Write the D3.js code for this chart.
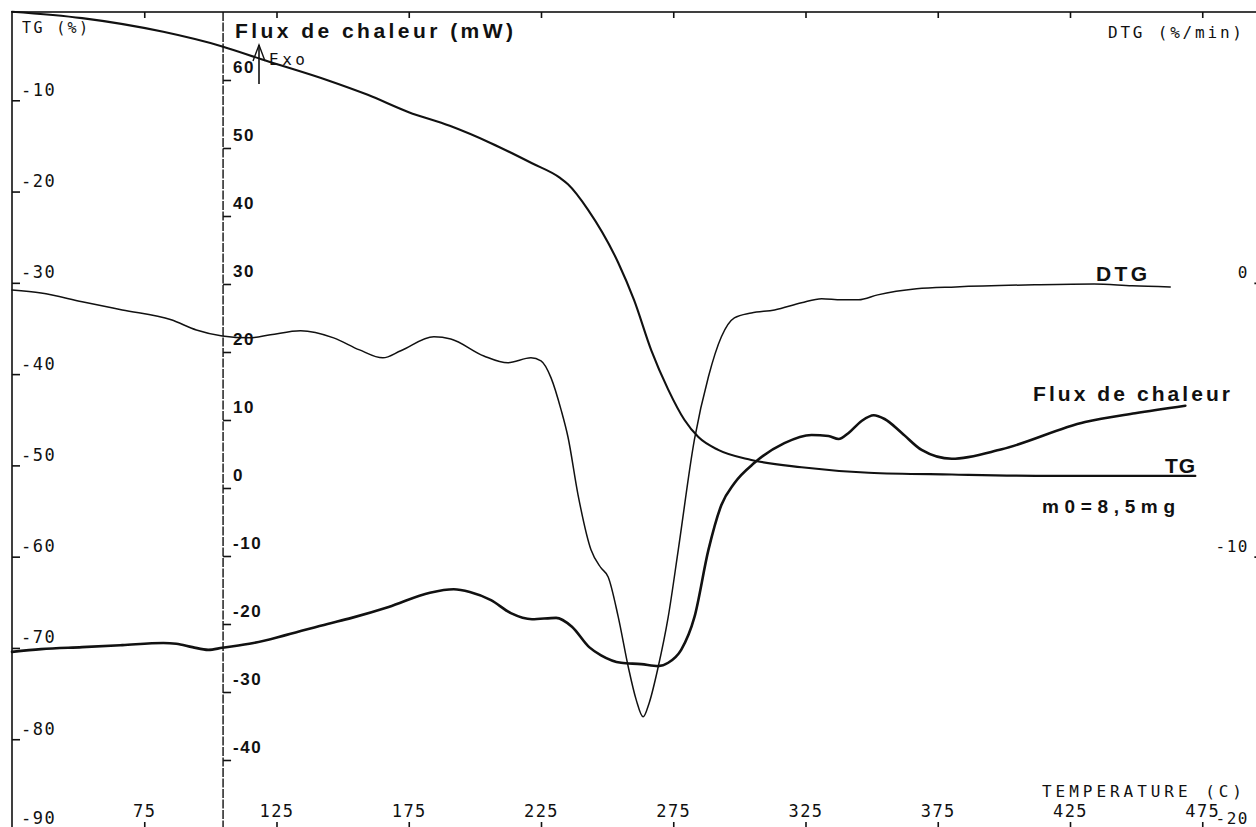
<!DOCTYPE html>
<html>
<head>
<meta charset="utf-8">
<script src="https://cdn.jsdelivr.net/npm/d3@7"></script>
<style>
  body { margin: 0; background: #fff; }
  svg { display: block; }
  .mono { font-family: "DejaVu Sans Mono", monospace; fill: #111; }
  .bold { font-family: "Liberation Sans", Arial, sans-serif; font-weight: bold; fill: #111; }
</style>
</head>
<body>
<svg id="chart" width="1256" height="827"></svg>
<script>
// Thermogravimetric run, sample mass m0 = 8,5 mg
// TG trace: mass change (%) against temperature (°C)
const tgTemps  = [25, 51.5, 82.2, 104.5, 119.3, 144.3, 159.5, 175, 190.5, 206.1, 221.6, 232.2, 235.2,
                  242.8, 254.2, 260.2, 266.7, 273.1, 279.2, 284.5, 292, 304.5, 323.5, 348.9, 380.3, 418.2, 472.4];
const tgValues = [-0.3, -1.0, -2.5, -4.1, -5.5, -7.8, -9.4, -11.3, -12.8, -14.7, -16.9, -18.5, -19.2,
                  -22.0, -27.8, -31.9, -37.4, -41.7, -45.0, -46.9, -48.3, -49.4, -50.2, -50.8, -51.0, -51.15, -51.15];

// DTG trace: rate of mass change (%/min)
const dtgTemps  = [25, 36, 51.5, 66.7, 85.2, 94.7, 104.5, 114.8, 122.7, 134.1, 146.6, 156.4, 165.2, 172,
                   184.5, 190.9, 203.4, 212.5, 221.2, 225, 228.8, 232.6, 235.2, 239, 243.9, 247.7, 250.4,
                   254.2, 258, 261, 263.6, 265.9, 269.3, 273.1, 276.9, 283, 288.3, 293.2, 298.1, 304.5,
                   313.3, 323.5, 331.1, 338.6, 345.1, 352.3, 367, 381.8, 411.7, 434.1, 448.5, 462.9];
const dtgValues = [-0.26, -0.37, -0.69, -0.99, -1.35, -1.72, -1.94, -2.01, -1.90, -1.75, -2.01, -2.45, -2.74, -2.48,
                   -1.97, -2.05, -2.67, -2.92, -2.74, -2.85, -3.47, -4.64, -5.63, -7.74, -9.75, -10.41, -10.74,
                   -12.20, -14.03, -15.23, -15.85, -15.34, -14.03, -12.20, -9.75, -5.73, -3.43, -1.97, -1.28, -1.10,
                   -0.99, -0.73, -0.58, -0.62, -0.62, -0.44, -0.22, -0.15, -0.07, -0.04, -0.11, -0.15];

// Heat flow trace (mW), exo up
const fluxTemps  = [25, 36, 51.5, 66.7, 82.2, 87.1, 93.2, 99.2, 104.5, 116.3, 128.8, 144.3, 153.4, 167.4,
                    183, 192, 198.1, 206.1, 213.6, 221.6, 230.7, 236.7, 243.2, 247.7, 255.3, 262.9, 269.3,
                    273.1, 278, 283, 288.3, 293.2, 298.1, 305.7, 317, 327.3, 333.7, 337.5, 341.3, 346.2,
                    350.8, 354.9, 361.4, 368.9, 380.3, 399.2, 430.7, 449.6, 468.6];
const fluxValues = [-24.1, -23.7, -23.4, -23.1, -22.8, -22.9, -23.4, -23.8, -23.5, -22.8, -21.6, -20.0, -19.1, -17.5,
                    -15.4, -14.9, -15.3, -16.5, -18.4, -19.3, -19.1, -20.4, -23.4, -24.6, -25.7, -25.9, -26.2,
                    -25.7, -23.8, -19.0, -9.1, -2.5, 0.7, 3.7, 6.6, 7.8, 7.65, 7.2, 8.1, 9.85,
                    10.7, 10.15, 8.1, 5.6, 4.3, 5.7, 9.7, 11.0, 12.1];

// Axis ticks
const tempTicks = [75, 125, 175, 225, 275, 325, 375, 425, 475];
const tgTicks   = [-10, -20, -30, -40, -50, -60, -70, -80, -90];
const fluxTicks = [60, 50, 40, 30, 20, 10, 0, -10, -20, -30, -40];
const dtgTicks  = [0, -10, -20];

const svg = d3.select("#chart");

// Scales
const frameLeft = 12, frameTop = 12, frameBottom = 831;
const x     = d3.scaleLinear().domain([25, 500]).range([frameLeft, frameLeft + 475 * 2.645]);
const yTG   = d3.scaleLinear().domain([0, -90]).range([9, 830.5]);
const yDTG  = d3.scaleLinear().domain([10, -20]).range([9, 830.5]);
const yFlux = d3.scaleLinear().domain([0, 60]).range([488, 80]);
const frameRight = x(500);
const fluxAxisX = x(104.8);

// Frame
svg.append("rect")
  .attr("x", frameLeft).attr("y", frameTop)
  .attr("width", frameRight - frameLeft).attr("height", frameBottom - frameTop)
  .attr("fill", "none").attr("stroke", "#111").attr("stroke-width", 1.6);

// Heat flow axis line
svg.append("line")
  .attr("x1", fluxAxisX).attr("x2", fluxAxisX)
  .attr("y1", frameTop).attr("y2", frameBottom)
  .attr("stroke", "#111").attr("stroke-width", 1.4)
  .attr("stroke-dasharray", "9,1.5");

function styleAxis(g) {
  g.select(".domain").remove();
  g.selectAll(".tick line").attr("stroke", "#111").attr("stroke-width", 1.6);
}

// TG axis (left)
const tgAxis = svg.append("g")
  .attr("transform", `translate(${frameLeft},0)`)
  .call(d3.axisRight(yTG).tickValues(tgTicks).tickSize(8).tickFormat(d => String(d)));
styleAxis(tgAxis);
tgAxis.selectAll(".tick text")
  .attr("class", "mono").attr("x", 9)
  .attr("dy", d => d === -90 ? -7 : -5)
  .attr("font-size", 17).attr("letter-spacing", 1.5)
  .attr("text-anchor", "start").attr("dominant-baseline", "auto");

// Heat flow axis
const fluxAxis = svg.append("g")
  .attr("transform", `translate(${fluxAxisX},0)`)
  .call(d3.axisRight(yFlux).tickValues(fluxTicks).tickSize(8).tickFormat(d => String(d)));
styleAxis(fluxAxis);
fluxAxis.selectAll(".tick text")
  .attr("class", "bold").attr("x", 10).attr("dy", -8)
  .attr("font-size", 17).attr("letter-spacing", 1.5)
  .attr("text-anchor", "start").attr("dominant-baseline", "auto");

// DTG axis (right)
const dtgAxis = svg.append("g")
  .attr("transform", `translate(${frameRight},0)`)
  .call(d3.axisLeft(yDTG).tickValues(dtgTicks).tickSize(14).tickFormat(d => String(d)));
styleAxis(dtgAxis);
dtgAxis.selectAll(".tick text")
  .attr("class", "mono").attr("x", -(frameRight - 1249))
  .attr("dy", d => d === -20 ? -7 : -5)
  .attr("font-size", 16).attr("letter-spacing", 1.5)
  .attr("text-anchor", "end").attr("dominant-baseline", "auto");

// Temperature axis (bottom, labels above ticks)
const tAxis = svg.append("g")
  .attr("transform", `translate(0,${frameBottom})`)
  .call(d3.axisTop(x).tickValues(tempTicks).tickSize(9).tickPadding(5).tickFormat(d => String(d)));
styleAxis(tAxis);
tAxis.selectAll(".tick text")
  .attr("class", "mono").attr("font-size", 17).attr("letter-spacing", 1.5);

// Top ticks
const topAxis = svg.append("g")
  .attr("transform", `translate(0,${frameTop})`)
  .call(d3.axisBottom(x).tickValues(tempTicks).tickSize(6).tickFormat(""));
styleAxis(topAxis);

// Traces
const curve = d3.curveMonotoneX;
function trace(temps, values, yScale, width) {
  const pts = temps.map((t, i) => [t, values[i]]);
  svg.append("path")
    .datum(pts)
    .attr("fill", "none").attr("stroke", "#111")
    .attr("stroke-width", width).attr("stroke-linejoin", "round").attr("stroke-linecap", "round")
    .attr("d", d3.line().curve(curve).x(d => x(d[0])).y(d => yScale(d[1])));
}
trace(tgTemps, tgValues, yTG, 2.1);
trace(dtgTemps, dtgValues, yDTG, 1.5);
trace(fluxTemps, fluxValues, yFlux, 2.6);

// Axis titles
svg.append("text").attr("class", "mono").attr("x", 22).attr("y", 33)
  .attr("font-size", 15).attr("textLength", 66).attr("lengthAdjust", "spacing").text("TG  (%)");
svg.append("text").attr("class", "bold").attr("x", 235).attr("y", 38)
  .attr("font-size", 21).attr("textLength", 278).attr("lengthAdjust", "spacing").text("Flux de chaleur (mW)");
svg.append("text").attr("class", "mono").attr("x", 1108).attr("y", 38)
  .attr("font-size", 16).attr("textLength", 134).attr("lengthAdjust", "spacing").text("DTG  (%/min)");
svg.append("text").attr("class", "mono").attr("x", 1042).attr("y", 797)
  .attr("font-size", 16).attr("textLength", 200).attr("lengthAdjust", "spacing").text("TEMPERATURE  (C)");

// Exo arrow
const ax = 259;
svg.append("line").attr("x1", ax).attr("x2", ax).attr("y1", 45).attr("y2", 84)
  .attr("stroke", "#111").attr("stroke-width", 1.6);
svg.append("path").attr("d", `M${ax - 6},61 L${ax},45 L${ax + 6},61`)
  .attr("fill", "none").attr("stroke", "#111").attr("stroke-width", 1.4);
svg.append("text").attr("class", "mono").attr("x", 269).attr("y", 65)
  .attr("font-size", 16).attr("textLength", 36).attr("lengthAdjust", "spacing").text("Exo");

// Trace labels
svg.append("text").attr("class", "bold").attr("x", 1096).attr("y", 281)
  .attr("font-size", 21).attr("textLength", 51).attr("lengthAdjust", "spacing").text("DTG");
svg.append("text").attr("class", "bold").attr("x", 1033).attr("y", 401)
  .attr("font-size", 21).attr("textLength", 197).attr("lengthAdjust", "spacing").text("Flux de chaleur");
svg.append("text").attr("class", "bold").attr("x", 1165).attr("y", 473)
  .attr("font-size", 21).attr("textLength", 30).attr("lengthAdjust", "spacing").text("TG");
svg.append("text").attr("class", "bold").attr("x", 1042).attr("y", 513)
  .attr("font-size", 19).attr("textLength", 133).attr("lengthAdjust", "spacing").text("m0=8,5mg");
</script>
</body>
</html>
